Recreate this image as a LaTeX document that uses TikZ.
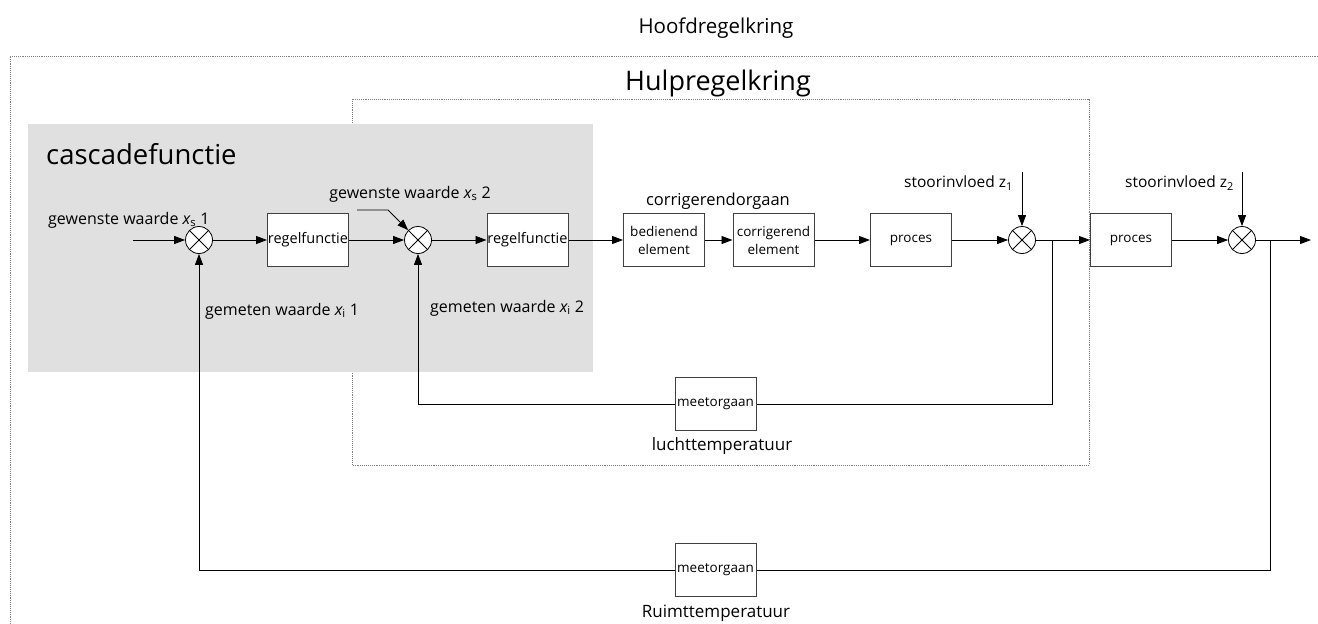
\documentclass[tikz,border=0pt]{standalone}
\usepackage{fontspec}
\setmainfont{Open Sans}
\usetikzlibrary{arrows.meta}
\begin{document}
\begin{tikzpicture}[x=1pt,y=-1pt,
  blk/.style={draw=black!75, line width=1pt, fill=white, minimum width=81pt, minimum height=53pt,
              inner sep=0pt, align=center, font=\fontsize{13.5}{18}\selectfont},
  sum/.style={circle, draw=black, line width=0.8pt, fill=white, minimum size=27pt, inner sep=0pt},
  flow/.style={line width=0.9pt, -{Triangle[length=11pt,width=8pt]}},
  wire/.style={line width=0.9pt},
  frame/.style={draw=black!50, line width=0.9pt, densely dotted},
  lbl/.style={font=\fontsize{16}{18}\selectfont, inner sep=0pt},
  big/.style={font=\fontsize{#1}{#1}\selectfont, inner sep=0pt},
]
\useasboundingbox (0,0) rectangle (1318,624);

% control loop frames
\draw[frame] (1322,56) -- (10,56) -- (10,628);
\draw[frame] (352,99) rectangle (1089,465);
% cascade function area
\fill[black!12] (28,124) rectangle (593,372);

% titles
\node[big=20.5] (tmain) at (716,28) {Hoofdregelkring};
\node[big=27] (taux) at (718,83) {Hulpregelkring};
\node[big=27.5, anchor=west] (tcasc) at (46,154) {cascadefunctie};

% summing junctions
\node[sum] (j1) at (199,240) {};
\node[sum] (j2) at (418,240) {};
\node[sum] (j3) at (1022,240) {};
\node[sum] (j4) at (1242,240) {};
\foreach \j in {j1,j2,j3,j4}{
  \draw[line width=0.8pt] (\j.north west) -- (\j.south east);
  \draw[line width=0.8pt] (\j.north east) -- (\j.south west);
}

% blocks
\node[blk, font=\fontsize{14.5}{18}\selectfont] (r1) at (308,240) {regelfunctie};
\node[blk, font=\fontsize{14.5}{18}\selectfont] (r2) at (527.5,240) {regelfunctie};
\node[blk] (bed) at (664,240) {bedienend\\element};
\node[blk] (cor) at (773.5,240) {corrigerend\\element};
\node[blk] (p1) at (911,240) {proces};
\node[blk] (p2) at (1131,240) {proces};
\node[blk] (m1) at (715.5,404) {meetorgaan};
\node[blk] (m2) at (715.5,570) {meetorgaan};

% free ends and branch points
\coordinate (in1) at (133,240);
\coordinate (out) at (1311,240);
\coordinate (z1) at (1022,172);
\coordinate (z2) at (1242,172);
\coordinate (s2a) at (357,210);
\coordinate (s2b) at (388,210);
\coordinate (b1) at (1052,240);
\coordinate (b2) at (1270,240);

% forward path
\draw[flow] (in1) -- (j1);
\draw[flow] (j1) -- (r1);
\draw[flow] (r1) -- (j2);
\draw[flow] (j2) -- (r2);
\draw[flow] (r2) -- (bed);
\draw[flow] (bed) -- (cor);
\draw[flow] (cor) -- (p1);
\draw[flow] (p1) -- (j3);
\draw[flow] (j3) -- (p2);
\draw[flow] (p2) -- (j4);
\draw[flow] (j4) -- (out);
\draw[flow] (z1) -- (j3);
\draw[flow] (z2) -- (j4);
\draw[flow] (s2a) -- (s2b) -- (j2.north west);

% feedback paths
\draw[wire] (b1) |- (m1);
\draw[flow] (m1) -| (j2);
\draw[wire] (b2) |- (m2);
\draw[flow] (m2) -| (j1);

% labels
\node[lbl, anchor=west] (lxs1) at (48,220) {gewenste waarde {\itshape x}\textsubscript{s} 1};
\node[lbl] (lxs2) at (410,194) {gewenste waarde {\itshape x}\textsubscript{s} 2};
\node[lbl, anchor=west] (lxi1) at (205,311) {gemeten waarde {\itshape x}\textsubscript{i} 1};
\node[lbl, anchor=west] (lxi2) at (430,308) {gemeten waarde {\itshape x}\textsubscript{i} 2};
\node[lbl, font=\fontsize{16.5}{18}\selectfont] (lcor) at (718,201) {corrigerendorgaan};
\node[lbl, font=\fontsize{15.5}{18}\selectfont, anchor=east] (lz1) at (1013,183) {stoorinvloed z\textsubscript{1}};
\node[lbl, font=\fontsize{15.5}{18}\selectfont, anchor=east] (lz2) at (1234,183) {stoorinvloed z\textsubscript{2}};
\node[lbl, font=\fontsize{17}{18}\selectfont] (llucht) at (722,446) {luchttemperatuur};
\node[lbl, font=\fontsize{17}{18}\selectfont] (lruimt) at (716,613) {Ruimttemperatuur};
\end{tikzpicture}
\end{document}
